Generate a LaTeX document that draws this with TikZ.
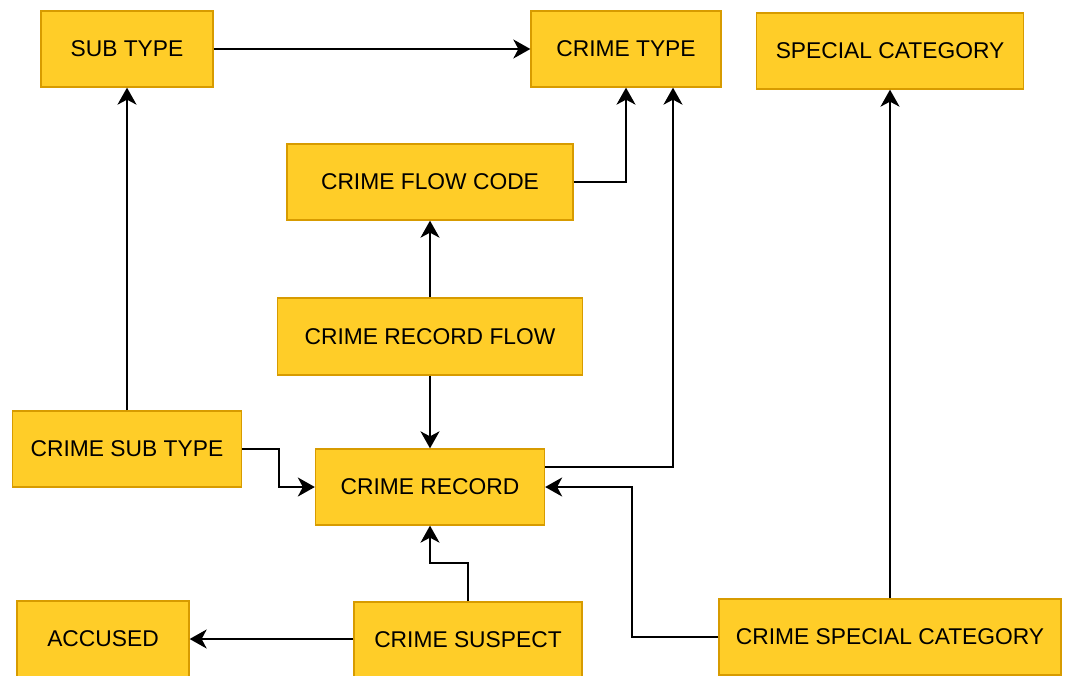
\documentclass[tikz,border=0pt]{standalone}
\usepackage{fontspec}
\setmainfont{Liberation Sans}
\usetikzlibrary{arrows.meta}
\definecolor{boxfill}{HTML}{FFCD28}
\definecolor{boxline}{HTML}{D79B00}
\begin{document}
\begin{tikzpicture}[x=1pt,y=-1pt,
  ent/.style={draw=boxline,fill=boxfill,line width=1.3pt,inner sep=0pt,
    font=\fontsize{22.8}{26}\selectfont},
  conn/.style={line width=2pt,-{Stealth[length=17pt,width=19pt,inset=5pt]}}]
\clip (0,0) rectangle (1070,675);
\fill[white] (0,0) rectangle (1070,675);
\node[ent,minimum width=172pt,minimum height=76pt] (sub) at (127,49) {SUB TYPE};
\node[ent,minimum width=190pt,minimum height=76pt] (ctype) at (626,49) {CRIME TYPE};
\node[ent,minimum width=267pt,minimum height=76pt] (spec) at (890,51) {SPECIAL CATEGORY};
\node[ent,minimum width=286pt,minimum height=76pt] (flowcode) at (430,182) {CRIME FLOW CODE};
\node[ent,minimum width=305pt,minimum height=77pt] (recflow) at (430,336.5) {CRIME RECORD FLOW};
\node[ent,minimum width=229pt,minimum height=76pt] (csub) at (127,449) {CRIME SUB TYPE};
\node[ent,minimum width=229pt,minimum height=76pt] (rec) at (430,487) {CRIME RECORD};
\node[ent,minimum width=172pt,minimum height=76pt] (acc) at (103,639) {ACCUSED};
\node[ent,minimum width=228pt,minimum height=76pt] (susp) at (468,640) {CRIME SUSPECT};
\node[ent,minimum width=342pt,minimum height=76pt] (cspec) at (890,637) {CRIME SPECIAL CATEGORY};
\coordinate (c1) at (626,182);
\coordinate (c2) at (673,467);
\coordinate (c3) at (279,449);
\coordinate (c4) at (279,487);
\coordinate (c5) at (468,563);
\coordinate (c6) at (430,563);
\coordinate (c7) at (632,637);
\coordinate (c8) at (632,487);
\draw[conn] (sub.east) -- (ctype.west);
\draw[conn] (csub.north) -- (sub.south);
\draw[conn] (flowcode.east) -- (c1) -- (c1 |- ctype.south);
\draw[conn] (rec.east |- c2) -- (c2) -- (c2 |- ctype.south);
\draw[conn] (cspec.north) -- (spec.south);
\draw[conn] (recflow.north) -- (flowcode.south);
\draw[conn] (recflow.south) -- (rec.north);
\draw[conn] (csub.east) -- (c3) -- (c4) -- (rec.west);
\draw[conn] (susp.north) -- (c5) -- (c6) -- (rec.south);
\draw[conn] (susp.west |- acc.east) -- (acc.east);
\draw[conn] (cspec.west) -- (c7) -- (c8) -- (rec.east);
\end{tikzpicture}
\end{document}
